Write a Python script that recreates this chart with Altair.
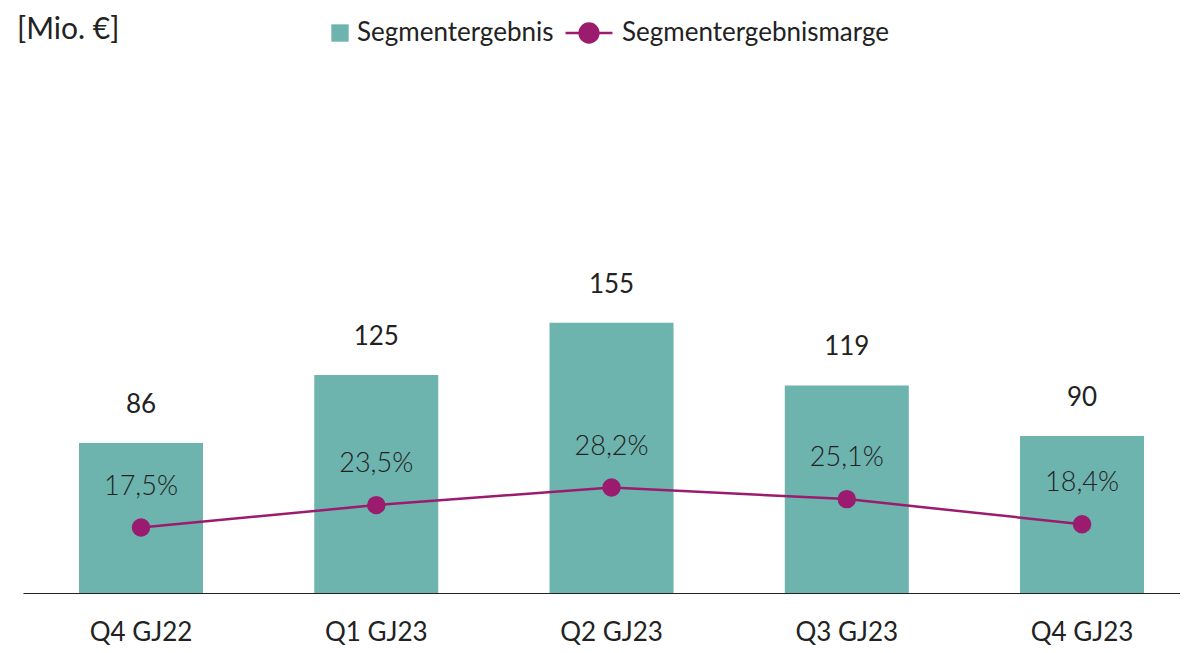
import altair as alt
import pandas as pd

quarters = ["Q4 GJ22", "Q1 GJ23", "Q2 GJ23", "Q3 GJ23", "Q4 GJ23"]
ergebnis = [86, 125, 155, 119, 90]
marge = [17.5, 23.5, 28.2, 25.1, 18.4]

df = pd.DataFrame({"q": quarters, "erg": ergebnis, "marge": marge})
df["marge_label"] = [f"{v:.1f}".replace(".", ",") + "%" for v in marge]
df["s1"] = "Segmentergebnis"
df["s2"] = "Segmentergebnismarge"

FONT = "Lato"
TEAL = "#6db3ae"
MAG = "#9b1c6e"
TXT = "#222222"

x = alt.X(
    "q:N",
    sort=quarters,
    scale=alt.Scale(paddingInner=0.473, paddingOuter=0.1955, align=0.609),
    axis=alt.Axis(
        title=None, labelAngle=0, ticks=False, domainColor=TXT, domainWidth=1.2,
        labelFontSize=26, labelColor=TXT, labelFont=FONT, labelPadding=26,
        grid=False,
    ),
)

ybar = alt.Y("erg:Q", scale=alt.Scale(domain=[0, 305.6], nice=False), axis=None)
yline = alt.Y("marge:Q", scale=alt.Scale(domain=[0, 142.5], nice=False), axis=None)

bars = alt.Chart(df).mark_bar(size=124).encode(
    x=x,
    y=ybar,
    color=alt.Color(
        "s1:N",
        scale=alt.Scale(range=[TEAL]),
        legend=alt.Legend(
            title=None, orient="none", legendX=304, legendY=-40, padding=0,
            symbolType="square", symbolSize=300, symbolStrokeWidth=0,
            labelFontSize=26, labelFont=FONT, labelColor=TXT, labelOffset=4,
            labelLimit=0,
        ),
    ),
)

bar_text = alt.Chart(df).mark_text(
    dy=-38, fontSize=26, font=FONT, color=TXT
).encode(x=x, y=ybar, text="erg:Q")

line = alt.Chart(df).mark_line(
    strokeWidth=2.5,
    point=alt.OverlayMarkDef(size=340, filled=True, opacity=1),
).encode(
    x=x,
    y=yline,
    color=alt.Color(
        "s2:N",
        scale=alt.Scale(range=[MAG]),
        legend=alt.Legend(
            title=None, orient="none", legendX=541, legendY=-52, padding=0,
            symbolType="M-1,0H1M-0.4,0A0.4,0.4,0,1,1,0.4,0A0.4,0.4,0,1,1,-0.4,0Z",
            symbolSize=2200, symbolStrokeWidth=2.5, symbolFillColor=MAG,
            symbolStrokeColor=MAG,
            labelFontSize=26, labelFont=FONT, labelColor=TXT, labelOffset=8,
            labelLimit=0,
        ),
    ),
)

pct_text = alt.Chart(df).mark_text(
    dy=-41, fontSize=27, font=FONT, fontWeight=300, color=TXT
).encode(x=x, y=yline, text="marge_label:N")

chart = (
    alt.layer(bars, bar_text, line, pct_text)
    .resolve_scale(y="independent", color="independent")
    .properties(
        width=1157,
        height=533,
        padding={"left": 15, "top": 52, "right": 0, "bottom": 52},
        autosize=alt.AutoSizeParams(type="none"),
        title=alt.TitleParams(
            "[Mio. €]", anchor="start", fontSize=30, font=FONT,
            fontWeight="normal", color=TXT, dx=-6, dy=41,
        ),
    )
    .configure_view(stroke=None)
)

chart.save("out.html", embed_options={"renderer": "svg", "actions": False})
